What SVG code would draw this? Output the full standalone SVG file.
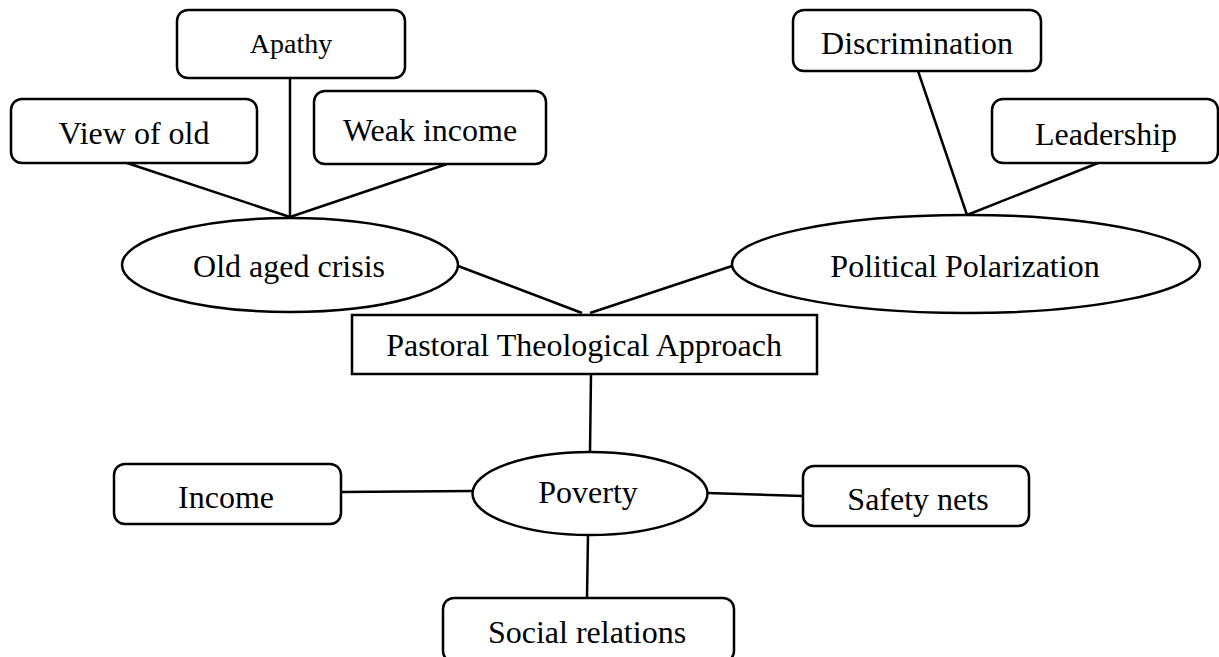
<svg xmlns="http://www.w3.org/2000/svg" width="1219" height="657" viewBox="0 0 1219 657">
<style>
.b{fill:#fff;stroke:#000;stroke-width:2.5}
.t{font-family:"Liberation Serif","Times New Roman",serif;font-size:32px;fill:#000;text-anchor:middle}
.s{font-size:28px}
#connectors line{stroke:#000;stroke-width:2.5}
</style>
<rect width="1219" height="657" fill="#fff"/>
<g id="connectors">
<line x1="127" y1="163" x2="290" y2="217"/>
<line x1="290" y1="78" x2="290" y2="217"/>
<line x1="447" y1="164" x2="290" y2="217"/>
<line x1="458" y1="266" x2="582" y2="313"/>
<line x1="732" y1="266" x2="590" y2="313"/>
<line x1="918" y1="71" x2="967" y2="215"/>
<line x1="1098" y1="163" x2="967" y2="215"/>
<line x1="591" y1="374" x2="590" y2="452"/>
<line x1="341" y1="492" x2="472" y2="491"/>
<line x1="707" y1="493" x2="803" y2="496"/>
<line x1="588" y1="535" x2="587" y2="598"/>
</g>
<g id="apathy"><rect class="b" x="177" y="10" width="228" height="68" rx="11"/><text class="t s" x="291" y="53">Apathy</text></g>
<g id="view-of-old"><rect class="b" x="11" y="99" width="246" height="64" rx="11"/><text class="t" x="134" y="144">View of old</text></g>
<g id="weak-income"><rect class="b" x="314" y="91" width="232" height="73" rx="11"/><text class="t" x="430" y="141">Weak income</text></g>
<g id="old-aged-crisis"><ellipse class="b" cx="290" cy="265" rx="168" ry="47"/><text class="t" x="289" y="277">Old aged crisis</text></g>
<g id="discrimination"><rect class="b" x="793" y="10" width="248" height="61" rx="11"/><text class="t" x="917" y="54">Discrimination</text></g>
<g id="leadership"><rect class="b" x="992" y="99" width="226" height="64" rx="11"/><text class="t" x="1106" y="145">Leadership</text></g>
<g id="political-polarization"><ellipse class="b" cx="966" cy="264" rx="234" ry="49"/><text class="t" x="965" y="277">Political Polarization</text></g>
<g id="pastoral"><rect class="b" x="352" y="315" width="465" height="59"/><text class="t" x="584" y="356">Pastoral Theological Approach</text></g>
<g id="poverty"><ellipse class="b" cx="590" cy="493.5" rx="117.5" ry="41.5"/><text class="t" x="588" y="503">Poverty</text></g>
<g id="income"><rect class="b" x="114" y="464" width="227" height="60" rx="11"/><text class="t" x="226" y="508">Income</text></g>
<g id="safety-nets"><rect class="b" x="803" y="466" width="226" height="60" rx="11"/><text class="t" x="918" y="510">Safety nets</text></g>
<g id="social-relations"><rect class="b" x="443" y="598" width="291" height="64" rx="11"/><text class="t" x="587" y="643">Social relations</text></g>
</svg>
